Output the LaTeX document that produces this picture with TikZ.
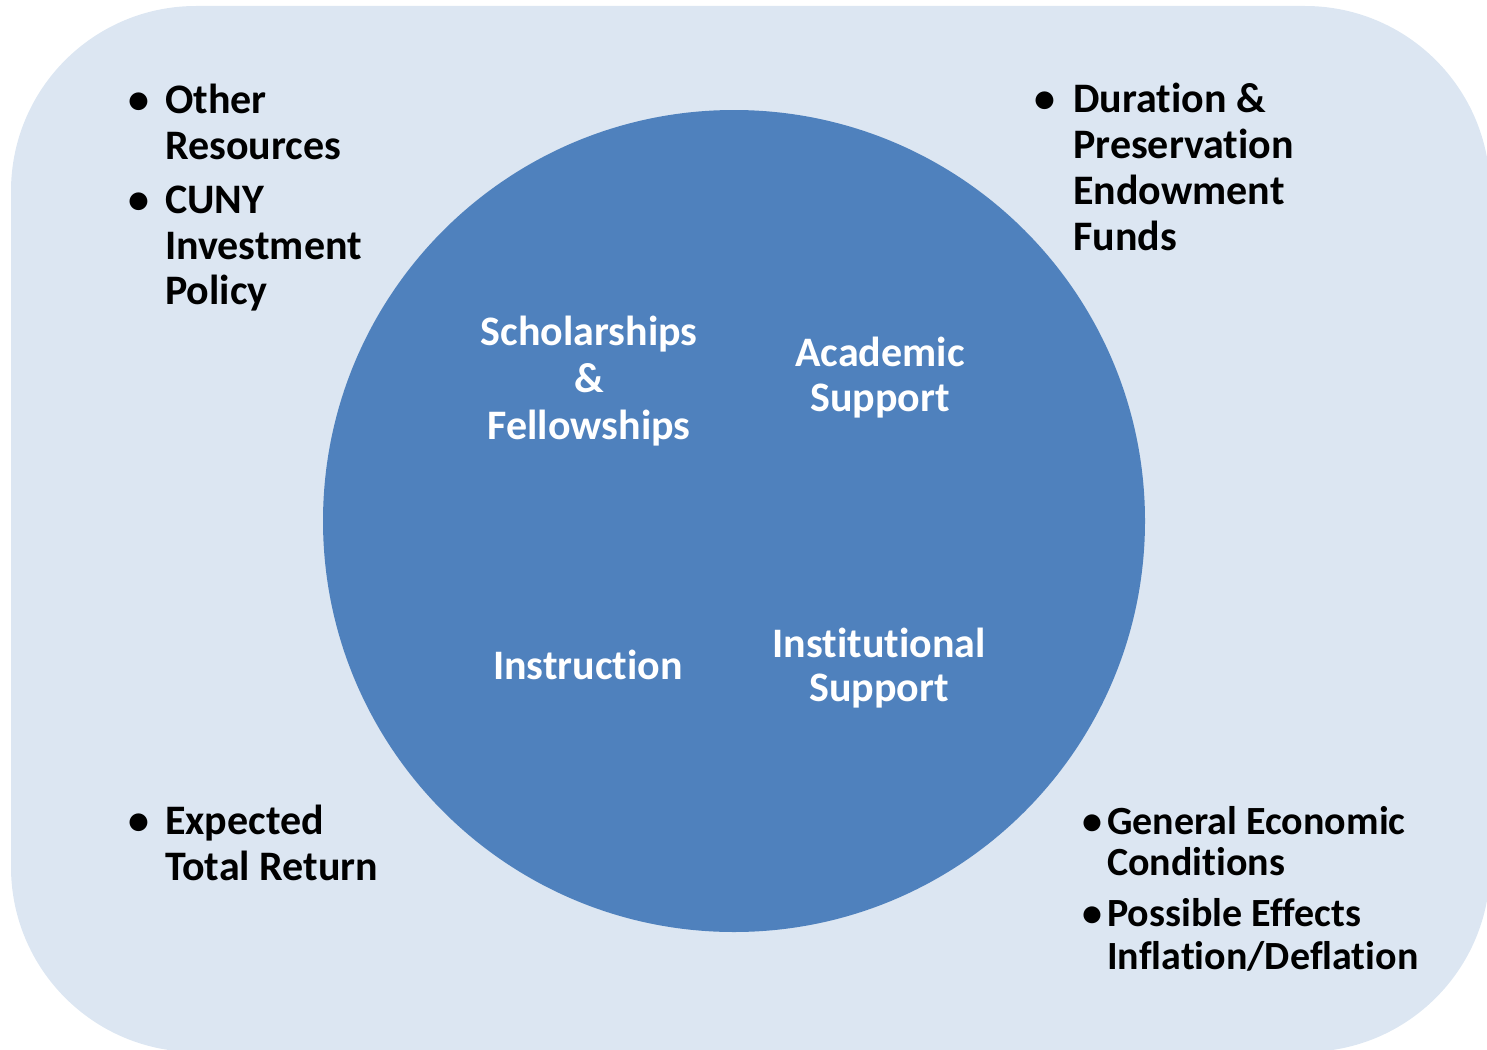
\documentclass[tikz,border=0pt]{standalone}
\usepackage{fontspec}
\setmainfont[Ligatures=NoCommon]{Carlito}
\definecolor{bgblue}{HTML}{DCE6F2}
\definecolor{circblue}{HTML}{4F81BD}
\begin{document}
\begin{tikzpicture}[x=1pt,y=-1pt,
  txt/.style={inner sep=0pt,font=\fontsize{42}{46}\selectfont\bfseries},
  sml/.style={inner sep=0pt,font=\fontsize{40}{44}\selectfont\bfseries},
  blk/.style={txt,anchor=base west,text=black},
  blks/.style={sml,anchor=base west,text=black},
  wht/.style={txt,anchor=base,text=white},
  bul/.style={txt,anchor=base,text=black},
  buls/.style={sml,anchor=base,text=black}]
\useasboundingbox (0,0) rectangle (1487,1049);
\fill[bgblue,rounded corners=185pt] (11,6) rectangle (1490,1052);
\fill[circblue] (734,521) circle[radius=411pt];
% circle labels
\node[wht] (s1) at (589,345) {Scholarships};
\node[wht] (s2) at (589,392) {\&};
\node[wht] (s3) at (589,439) {Fellowships};
\node[wht] (a1) at (880,366) {Academic};
\node[wht] (a2) at (880,411) {Support};
\node[wht] (i1) at (588,679) {Instruction};
\node[wht] (n1) at (879,657) {Institutional};
\node[wht] (n2) at (879,701) {Support};
% top left
\node[bul] (b1) at (139,113) {•};
\node[blk] (t1) at (165,113) {Other};
\node[blk] (t2) at (165,159) {Resources};
\node[bul] (b2) at (139,213) {•};
\node[blk] (t3) at (165,213) {CUNY};
\node[blk] (t4) at (165,259) {Investment};
\node[blk] (t5) at (165,304) {Policy};
% top right
\node[bul] (b3) at (1045,112) {•};
\node[blk] (r1) at (1073,112) {Duration \&};
\node[blk] (r2) at (1073,158) {Preservation};
\node[blk] (r3) at (1073,204) {Endowment};
\node[blk] (r4) at (1073,250) {Funds};
% bottom left
\node[bul] (b4) at (139,834) {•};
\node[blk] (e1) at (165,834) {Expected};
\node[blk] (e2) at (165,880) {Total Return};
% bottom right
\node[buls] (b5) at (1092,834) {•};
\node[blks] (g1) at (1107,834) {General Economic};
\node[blks] (g2) at (1107,875) {Conditions};
\node[buls] (b6) at (1092,926) {•};
\node[blks] (g3) at (1107,926) {Possible Effects};
\node[blks] (g4) at (1107,969) {Inflation/Deflation};
\end{tikzpicture}
\end{document}
